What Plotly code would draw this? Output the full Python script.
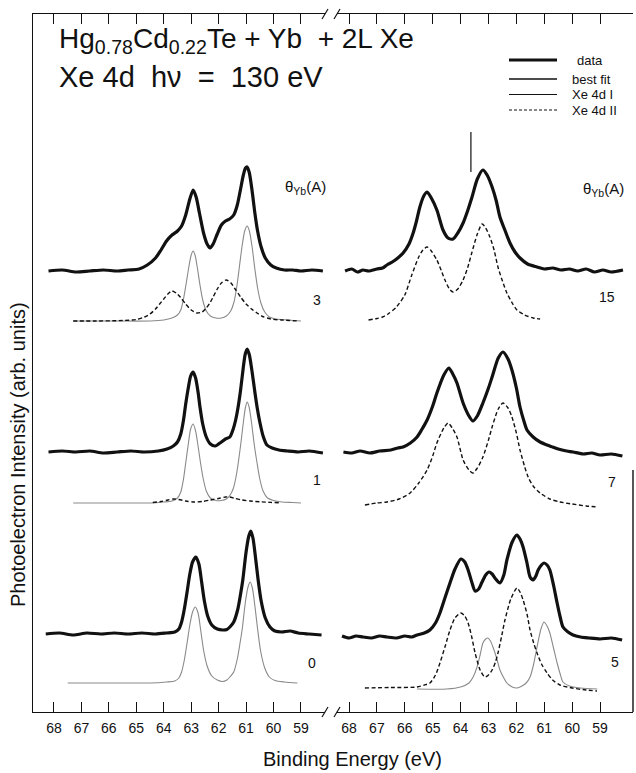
import plotly.graph_objects as go

# ---------------- data (binding energy in eV, intensity in arb. units) ----------------
tick_energies = [68, 67, 66, 65, 64, 63, 62, 61, 60, 59]

# left column: theta = 3, 1, 0 ; right column: theta = 15, 7, 5
theta_left = ["3", "1", "0"]
theta_right = ["15", "7", "5"]

# vertical offsets of each stacked spectrum (arb. units)
offset_data_left = [502, 321, 139]
offset_comp_left = [452, 270, 90]
offset_data_right = [502, 321, 136]
offset_comp_right = [453, 268, 84]

# theta = 3 A
data_t3 = [(68.2,0),(67.7,1),(67.2,-1),(66.7,0),(66.2,1),(65.7,0),(65.3,1),(64.9,2),(64.6,6),(64.3,13),
           (64.1,21),(63.9,30),(63.7,36),(63.5,40),(63.35,45),(63.2,56),(63.05,72),(62.93,81),(62.82,74),
           (62.7,58),(62.55,38),(62.42,27),(62.31,23),(62.2,27),(62.05,37),(61.9,46),(61.75,50),(61.6,52),
           (61.45,56),(61.32,66),(61.2,82),(61.1,96),(61.02,103),(60.96,104),(60.88,98),(60.78,80),
           (60.68,58),(60.58,40),(60.45,24),(60.3,13),(60.1,6),(59.9,3),(59.6,1),(59.3,1),(59.0,0),
           (58.6,1),(58.2,0)]
xe4dI_t3 = [(67.3,0),(66.0,0),(64.5,0),(64.0,1),(63.7,3),(63.5,6),(63.38,11),(63.28,22),(63.18,38),
            (63.08,55),(63.0,66),(62.93,70),(62.86,66),(62.78,54),(62.68,36),(62.58,21),(62.45,10),
            (62.3,5),(62.1,3),(61.9,3),(61.72,5),(61.56,10),(61.44,19),(61.34,34),(61.24,55),(61.14,76),
            (61.05,90),(60.96,95),(60.88,90),(60.78,74),(60.68,52),(60.58,33),(60.46,18),(60.32,9),
            (60.15,4),(59.9,2),(59.5,1),(59.0,0)]
xe4dII_t3 = [(67.3,0),(66.5,0),(65.5,0.5),(65.0,1.5),(64.7,4),(64.5,7),(64.3,12),(64.15,17),(64.0,22),
             (63.85,27),(63.7,30),(63.55,28),(63.4,24),(63.2,17),(63.0,11),(62.8,8),(62.6,9),(62.45,13),
             (62.3,19),(62.2,24),(62.05,32),(61.9,38),(61.72,41),(61.55,38),(61.4,32),(61.2,24),(61.0,17),
             (60.8,12),(60.6,8),(60.4,4.5),(60.1,2),(59.7,1),(59.1,0)]

# theta = 1 A
data_t1 = [(68.2,0),(67.7,1),(67.2,0),(66.7,1),(66.2,-1),(65.7,0),(65.2,1),(64.7,0),(64.2,1),(63.88,3),
           (63.65,6),(63.5,10),(63.38,18),(63.28,32),(63.2,48),(63.1,65),(63.02,76),(62.93,80),(62.84,74),
           (62.75,60),(62.68,45),(62.58,28),(62.45,15),(62.3,8),(62.12,6),(61.95,9),(61.75,13),(61.59,15),
           (61.48,22),(61.38,32),(61.29,45),(61.2,62),(61.1,85),(61.03,98),(60.96,103),(60.88,97),
           (60.78,80),(60.68,60),(60.6,45),(60.5,30),(60.38,16),(60.24,7),(60.05,4),(59.8,2),(59.5,1),
           (59.1,0),(58.7,1),(58.2,-1)]
xe4dI_t1 = [(67.3,0),(66.3,0),(65.3,0),(64.5,0),(64.0,1),(63.7,2),(63.5,5),(63.38,11),(63.28,24),(63.2,40),
            (63.1,60),(63.02,74),(62.93,79),(62.84,72),(62.75,57),(62.66,40),(62.56,24),(62.45,12),(62.3,5),
            (62.1,2.5),(61.9,2.5),(61.72,4),(61.58,8),(61.46,15),(61.36,27),(61.27,43),(61.18,62),
            (61.08,85),(61.02,96),(60.96,101),(60.89,96),(60.8,80),(60.7,58),(60.6,40),(60.5,24),
            (60.38,12),(60.22,5),(60.0,2.5),(59.7,1),(59.3,0.5),(59.0,0)]
xe4dII_t1 = [(64.4,0.5),(64.1,1.5),(63.85,3),(63.65,4),(63.45,3.5),(63.2,2),(62.9,1),(62.6,1.5),(62.3,3),
             (62.0,4.5),(61.75,6),(61.6,6),(61.4,4.5),(61.15,3),(60.85,2),(60.5,1.2),(60.1,0.6),(59.8,0.3)]

# theta = 0 A
data_t0 = [(68.3,0),(67.8,1),(67.3,-1),(66.8,1),(66.3,0),(65.8,1),(65.3,0),(64.8,1),(64.3,0),(63.9,1),
           (63.6,2),(63.45,5),(63.35,12),(63.25,25),(63.15,42),(63.05,60),(62.95,72),(62.83,77),(62.72,70),
           (62.62,52),(62.52,33),(62.4,18),(62.25,9),(62.05,5),(61.85,4),(61.7,4.5),(61.59,7),(61.45,12),
           (61.3,25),(61.2,40),(61.12,54),(61.0,82),(60.9,98),(60.83,103),(60.75,96),(60.65,75),(60.56,54),
           (60.45,33),(60.3,16),(60.13,7),(59.95,3),(59.7,2),(59.4,3),(59.1,1),(58.7,0),(58.25,-1)]
xe4dI_t0 = [(67.5,0),(66.5,0),(65.5,0),(64.5,0),(63.9,1),(63.6,2),(63.45,5),(63.35,11),(63.25,23),(63.15,40),
            (63.05,58),(62.95,71),(62.85,76),(62.75,70),(62.65,52),(62.55,33),(62.42,17),(62.25,7),(62.05,3),
            (61.85,1.5),(61.7,3),(61.59,6),(61.45,11),(61.32,24),(61.22,40),(61.14,54),(61.02,82),(60.92,97),
            (60.85,101),(60.77,95),(60.67,75),(60.58,54),(60.47,32),(60.32,15),(60.15,6),(59.95,2.5),
            (59.6,1),(59.13,0)]

# theta = 15 A
data_t15 = [(68.14,0),(67.9,2),(67.7,-1),(67.5,1),(67.3,0),(67.0,2),(66.8,3),(66.64,6),(66.45,9),(66.25,13),
            (66.06,18),(65.85,27),(65.7,38),(65.58,50),(65.46,64),(65.32,75),(65.2,79),(65.05,73),(64.85,61),
            (64.63,41),(64.45,33),(64.27,32),(64.1,38),(63.91,48),(63.75,60),(63.59,74),(63.4,92),(63.2,101),
            (63.05,96),(62.87,84),(62.72,70),(62.59,54),(62.4,40),(62.23,28),(62.05,19),(61.87,13),(61.6,7),
            (61.26,4),(61.0,2),(60.7,3),(60.4,1),(60.1,2),(59.8,0),(59.5,2),(59.2,-1),(58.9,1),(58.6,-1),
            (58.18,1)]
xe4dII_t15 = [(67.3,0),(67.0,1.5),(66.8,3),(66.6,6),(66.3,13),(66.0,25),(65.75,45),(65.5,63),(65.35,70),
              (65.2,73),(65.05,69),(64.85,60),(64.7,50),(64.56,40),(64.4,31),(64.27,28),(64.1,31),(63.91,40),
              (63.75,52),(63.6,67),(63.4,86),(63.23,96),(63.1,92),(62.95,83),(62.8,70),(62.66,53),(62.5,39),
              (62.34,27),(62.15,17),(61.98,10),(61.7,5),(61.4,2),(61.15,1)]
marker_t15_E = 63.63
marker_t15_I = [99, 139]

# theta = 7 A
data_t7 = [(68.2,0),(67.9,-1),(67.6,1),(67.25,-1),(66.9,1),(66.5,2),(66.25,4),(66.06,5),(65.8,9),(65.56,15),
           (65.4,22),(65.2,32),(65.0,46),(64.85,59),(64.6,77),(64.42,84),(64.28,78),(64.13,69),(63.91,49),
           (63.7,36),(63.56,31),(63.4,36),(63.2,49),(63.0,64),(62.87,75),(62.65,94),(62.48,100),(62.3,93),
           (62.16,82),(62.0,64),(61.87,45),(61.72,30),(61.62,22),(61.4,15),(61.15,10),(60.9,7),(60.7,5),
           (60.5,3),(60.2,1),(59.97,0),(59.6,-2),(59.3,-1),(59.0,-3),(58.6,-2),(58.2,-4)]
xe4dII_t7 = [(67.43,0),(67.0,2),(66.64,3),(66.2,6),(65.81,12),(65.5,22),(65.2,35),(65.0,49),(64.85,62),
             (64.6,77),(64.45,82),(64.3,77),(64.13,68),(63.91,45),(63.7,35),(63.56,32),(63.4,37),(63.2,48),
             (63.0,65),(62.87,78),(62.65,96),(62.48,102),(62.3,97),(62.16,88),(62.0,72),(61.87,55),(61.7,38),
             (61.58,28),(61.4,19),(61.15,12),(60.8,6),(60.44,3),(60.0,1),(59.5,-1),(59.08,-2)]

# theta = 5 A
data_t5 = [(68.25,1),(68.0,-1),(67.75,1),(67.5,0),(67.2,-1),(66.9,1),(66.64,0),(66.3,-1),(66.0,1),(65.75,0),
           (65.56,2),(65.3,4),(65.1,7),(64.9,14),(64.74,24),(64.55,40),(64.38,54),(64.2,68),(63.99,78),
           (63.85,75),(63.73,67),(63.6,55),(63.48,46),(63.35,48),(63.23,55),(63.1,62),(62.98,65),(62.87,63),
           (62.77,59),(62.59,54),(62.45,62),(62.34,77),(62.15,95),(61.98,102),(61.87,98),(61.76,90),
           (61.62,74),(61.51,60),(61.4,57),(61.3,61),(61.22,67),(61.1,72),(61.01,74),(60.9,72),(60.8,67),
           (60.67,52),(60.54,34),(60.43,20),(60.33,10),(60.15,5),(59.97,2),(59.7,0),(59.4,-1),(59.0,-2),
           (58.6,-1),(58.21,-3)]
xe4dI_t5 = [(65.56,0),(64.5,0),(64.0,2),(63.7,6),(63.55,12),(63.41,22),(63.3,34),(63.2,46),(63.1,50),(63.02,51),
            (62.93,48),(62.84,42),(62.7,30),(62.59,19),(62.45,11),(62.34,6),(62.15,2),(61.98,1),(61.8,3),
            (61.65,6),(61.51,12),(61.38,25),(61.26,42),(61.12,60),(61.01,67),(60.9,63),(60.8,56),(60.67,41),
            (60.54,26),(60.43,15),(60.33,7),(60.1,3),(59.7,1),(59.1,0)]
xe4dII_t5 = [(67.43,1),(66.5,1.5),(65.56,2),(65.3,4),(65.1,6),(64.9,14),(64.74,26),(64.55,43),(64.38,59),
             (64.2,71),(63.99,76),(63.85,73),(63.73,66),(63.6,52),(63.48,36),(63.3,19),(63.13,12),(63.0,14),
             (62.87,19),(62.75,27),(62.66,36),(62.52,54),(62.41,69),(62.2,90),(61.98,101),(61.87,97),
             (61.76,89),(61.62,75),(61.51,59),(61.38,46),(61.26,36),(61.1,25),(60.9,16),(60.7,9),(60.44,4),
             (60.0,1),(59.5,-1),(59.11,-2)]

# ---------------- figure ----------------
W, H = 636, 773
def px(x):
    return x / W
def py(y):
    return 1 - y / H

INK = "#111111"
FONT = "Liberation Sans, Arial, sans-serif"

fig = go.Figure()

def add_curve(points, offset, xa, ya, kind):
    xs = [p[0] for p in points]
    ys = [p[1] + offset for p in points]
    if kind == "data":
        line = dict(color=INK, width=3.2, shape="spline", smoothing=0.7)
    elif kind == "I":
        line = dict(color="#8a8a8a", width=1.1, shape="spline", smoothing=0.7)
    else:
        line = dict(color=INK, width=1.4, dash="4px,2.5px", shape="spline", smoothing=0.7)
    fig.add_trace(go.Scatter(x=xs, y=ys, mode="lines", line=line, xaxis=xa, yaxis=ya,
                             showlegend=False, hoverinfo="skip"))

# left column
add_curve(xe4dI_t3, offset_comp_left[0], "x", "y", "I")
add_curve(xe4dII_t3, offset_comp_left[0], "x", "y", "II")
add_curve(data_t3, offset_data_left[0], "x", "y", "data")
add_curve(xe4dI_t1, offset_comp_left[1], "x", "y", "I")
add_curve(xe4dII_t1, offset_comp_left[1], "x", "y", "II")
add_curve(data_t1, offset_data_left[1], "x", "y", "data")
add_curve(xe4dI_t0, offset_comp_left[2], "x", "y", "I")
add_curve(data_t0, offset_data_left[2], "x", "y", "data")
# right column
add_curve(xe4dII_t15, offset_comp_right[0], "x2", "y2", "II")
add_curve(data_t15, offset_data_right[0], "x2", "y2", "data")
add_curve(xe4dII_t7, offset_comp_right[1], "x2", "y2", "II")
add_curve(data_t7, offset_data_right[1], "x2", "y2", "data")
add_curve(xe4dI_t5, offset_comp_right[2], "x2", "y2", "I")
add_curve(xe4dII_t5, offset_comp_right[2], "x2", "y2", "II")
add_curve(data_t5, offset_data_right[2], "x2", "y2", "data")
# marker line (theta = 15)
fig.add_trace(go.Scatter(x=[marker_t15_E, marker_t15_E],
                         y=[offset_data_right[0] + v for v in marker_t15_I],
                         mode="lines", line=dict(color=INK, width=1.2),
                         xaxis="x2", yaxis="y2", showlegend=False, hoverinfo="skip"))

axis_common = dict(
    tickvals=tick_energies, ticktext=[str(t) for t in tick_energies],
    ticks="inside", ticklen=10, tickwidth=1.1, tickcolor=INK,
    showline=True, linewidth=1.4, linecolor=INK, mirror="ticks",
    showgrid=False, zeroline=False,
    tickfont=dict(family=FONT, size=14, color=INK),
    ticklabelstandoff=3,
)
yaxis_common = dict(domain=[py(712), py(14)], range=[61, 759], showgrid=False, zeroline=False,
                    showticklabels=False, ticks="")

fig.update_layout(
    width=W, height=H, autosize=False,
    margin=dict(l=0, r=0, t=0, b=0),
    paper_bgcolor="white", plot_bgcolor="white",
    showlegend=False,
    xaxis=dict(domain=[px(33), px(325)], range=[68.765, 58.124], anchor="y", **axis_common),
    xaxis2=dict(domain=[px(337), px(633)], range=[68.43, 57.82], anchor="y2", **axis_common),
    yaxis=dict(anchor="x", showline=True, linewidth=1.4, linecolor=INK, **yaxis_common),
    yaxis2=dict(anchor="x2", showline=False, **yaxis_common),
)

shapes = []
# axis break marks (bottom and top)
for yb in (712, 14):
    for xc in (325, 337):
        shapes.append(dict(type="line", xref="paper", yref="paper",
                           x0=px(xc - 3), y0=py(yb + 5), x1=px(xc + 3), y1=py(yb - 5),
                           line=dict(color=INK, width=1.2)))
# partial right frame
shapes.append(dict(type="line", xref="paper", yref="paper", x0=px(633), x1=px(633),
                   y0=py(470), y1=py(712), line=dict(color=INK, width=1.4)))
# legend samples
legend_rows = [("data", 60, 3.2, "solid", INK),
               ("best fit", 79, 1.6, "solid", INK),
               ("Xe 4d I", 94.5, 1.1, "solid", INK),
               ("Xe 4d II", 110, 1.2, "3px,2px", INK)]
for name, yy, wdt, dash, col in legend_rows:
    shapes.append(dict(type="line", xref="paper", yref="paper", x0=px(509), x1=px(557),
                       y0=py(yy), y1=py(yy), line=dict(color=col, width=wdt, dash=dash)))
fig.update_layout(shapes=shapes)

ann = []
def text(x, y, s, size, xanchor="left", yanchor="middle", angle=0):
    ann.append(dict(x=px(x), y=py(y), xref="paper", yref="paper", text=s, showarrow=False,
                    xanchor=xanchor, yanchor=yanchor, textangle=angle,
                    font=dict(family=FONT, size=size, color=INK)))

text(57, 40, "Hg<sub>0.78</sub>Cd<sub>0.22</sub>Te + Yb \u00a0+ 2L Xe", 28)
text(57, 77, "Xe 4d \u00a0h\u03bd \u00a0= \u00a0130 eV", 29)
for (name, yy, _, _, _), xx in zip(legend_rows, [575, 570, 570, 570]):
    text(xx, yy, name, 13)
text(283, 187, "\u03b8<sub>Yb</sub>(A)", 15)
text(581, 190, "\u03b8<sub>Yb</sub>(A)", 15)
for lab, yy, xx in zip(theta_left, [300, 480, 663], [317, 317, 312]):
    text(xx, yy, lab, 14, xanchor="center")
for lab, yy, xx in zip(theta_right, [297, 482, 662], [607, 612, 615]):
    text(xx, yy, lab, 14, xanchor="center")
text(352, 759, "Binding Energy (eV)", 20, xanchor="center")
text(18, 455, "Photoelectron Intensity (arb. units)", 20, xanchor="center", angle=-90)
fig.update_layout(annotations=ann)

# remove the browser's default 8px page margin so the figure sits at the window origin
fig.write_html("out.html", config={"displayModeBar": False},
               post_script="document.body.style.margin='0px';")
